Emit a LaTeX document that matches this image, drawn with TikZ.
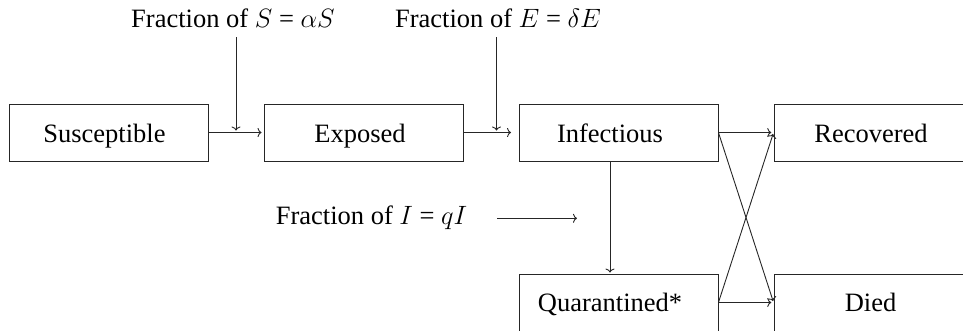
\documentclass[tikz,border=0pt]{standalone}
\usepackage{fix-cm}
\usepackage{fontspec}
\setmainfont{Liberation Serif}
\usetikzlibrary{arrows.meta}
\begin{document}
\begin{tikzpicture}[x=1pt,y=-1pt,
  line width=0.9pt, draw=black!85,
  box/.style={draw, rectangle, minimum width=199pt, minimum height=57pt, inner sep=0pt},
  lbl/.style={anchor=base, inner sep=0pt, font=\fontsize{26.5}{32}\selectfont},
  arr/.style={-{To[length=4pt,width=9pt]}},
]
\useasboundingbox (0,0) rectangle (963,330);
\clip (0,0) rectangle (963,330);
% boxes
\node[box] (sus) at (108.5,132.5) {};
\node[box] (exp) at (363.5,132.5) {};
\node[box] (inf) at (618.5,132.5) {};
\node[box] (rec) at (873.5,132.5) {};
\node[box] (qua) at (618.5,302.5) {};
\node[box] (die) at (873.5,302.5) {};
% box texts
\node[lbl] (sust) at (104.5,142) {Susceptible};
\node[lbl] (expt) at (360,142) {Exposed};
\node[lbl] (inft) at (610,142) {Infectious};
\node[lbl] (rect) at (871,142) {Recovered};
\node[lbl] (quat) at (610,311.5) {Quarantined*};
\node[lbl] (diet) at (870.5,311.5) {Died};
% fraction labels
\node[lbl] (fs) at (233,27) {Fraction of $S$ = $\alpha S$};
\node[lbl] (fe) at (498,27) {Fraction of $E$ = $\delta E$};
\node[lbl] (fi) at (371.5,224) {Fraction of $I$ = $qI$};
\coordinate (fsA) at (236,37);
\coordinate (fsB) at (236,130.5);
\coordinate (feA) at (496.5,37);
\coordinate (feB) at (496.5,130.5);
\coordinate (fiA) at (497,218.3);
\coordinate (fiB) at (577,218.3);
% connectors
\draw[arr, shorten >=2pt] (sus.east) -- (exp.west);
\draw[arr, shorten >=7.5pt] (exp.east) -- (inf.west);
\draw[arr, shorten >=2.3pt] (inf.east) -- (rec.west);
\draw[arr, shorten >=2.3pt] (qua.east) -- (die.west);
\draw[arr, shorten >=1.5pt] (inf.east) -- (die.west);
\draw[arr, shorten >=1.5pt] (qua.east) -- (rec.west);
\draw[arr, shorten >=1pt] ([xshift=-8.5pt]inf.south) -- ([xshift=-8.5pt]qua.north);
\draw[arr] (fsA) -- (fsB);
\draw[arr] (feA) -- (feB);
\draw[arr] (fiA) -- (fiB);
\end{tikzpicture}
\end{document}
